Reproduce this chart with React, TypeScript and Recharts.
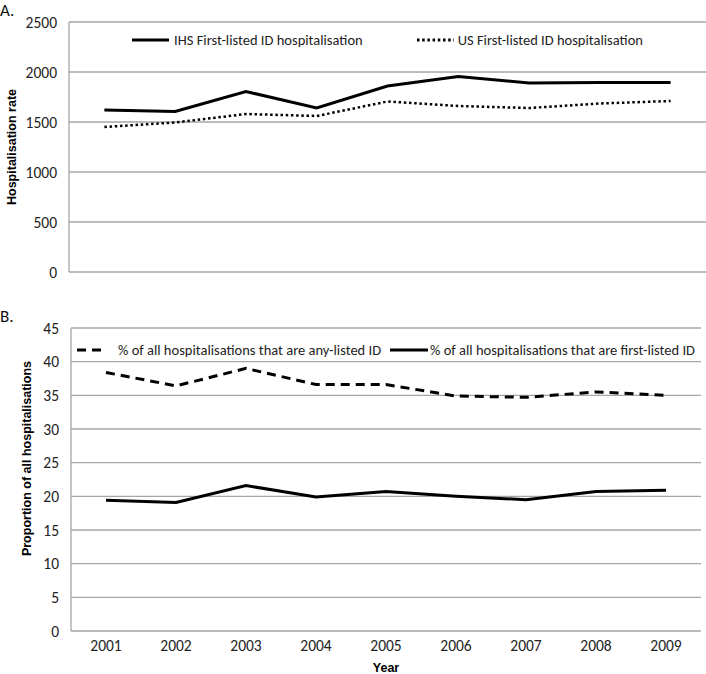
import { CartesianGrid, Legend, Line, LineChart, XAxis, YAxis } from "recharts";

const years = [2001, 2002, 2003, 2004, 2005, 2006, 2007, 2008, 2009];
const yearBounds = [2000.5, 2001.5, 2002.5, 2003.5, 2004.5, 2005.5, 2006.5, 2007.5, 2008.5, 2009.5];

const ihsRate = [1620, 1605, 1805, 1640, 1860, 1955, 1890, 1895, 1895];
const usRate = [1450, 1495, 1580, 1560, 1705, 1660, 1640, 1685, 1710];

const anyListedPct = [38.4, 36.4, 39.0, 36.6, 36.6, 34.9, 34.7, 35.5, 35.0];
const firstListedPct = [19.4, 19.1, 21.6, 19.9, 20.7, 20.0, 19.5, 20.7, 20.9];

const rateTicks = [0, 500, 1000, 1500, 2000, 2500];
const pctTicks = [0, 5, 10, 15, 20, 25, 30, 35, 40, 45];

const rateData = years.map((year, i) => ({ year, ihs: ihsRate[i], us: usRate[i] }));
const pctData = years.map((year, i) => ({ year, any: anyListedPct[i], first: firstListedPct[i] }));

const FONT = "Carlito, 'Liberation Sans Narrow', Lato, 'Open Sans', sans-serif";
const BOLD_FONT = "'Liberation Sans', Arial, sans-serif";
const GRID = "#a6a6a6";

const dashes: Record<string, { dash?: string; len: number; gap: number }> = {
  ihs: { len: 37, gap: 5 },
  us: { dash: "2.5 2.7", len: 37, gap: 4 },
  any: { dash: "9 6", len: 30, gap: 11 },
  first: { len: 38, gap: 2 },
};

function LineLegend({ payload, itemGap }: any) {
  return (
    <div style={{ display: "flex", justifyContent: "center", gap: itemGap, fontFamily: FONT, fontSize: 14.5, lineHeight: "18px", color: "#222" }}>
      {(payload || []).map((e: any) => {
        const d = dashes[e.dataKey];
        return (
          <div key={e.dataKey} style={{ display: "flex", alignItems: "center" }}>
            <svg width={d.len} height={8}>
              <line x1={0} y1={4} x2={d.len} y2={4} stroke="#000" strokeWidth={3} strokeDasharray={d.dash} />
            </svg>
            <span style={{ marginLeft: d.gap }}>{e.value}</span>
          </div>
        );
      })}
    </div>
  );
}

const tickStyle = { fontFamily: FONT, fontSize: 15.5, fill: "#222" };

function YLabel({ viewBox, value, dx, dy }: any) {
  const cx = viewBox.x + dx;
  const cy = viewBox.y + viewBox.height / 2 + dy;
  return (
    <text x={cx} y={cy} transform={`rotate(-90 ${cx} ${cy})`} textAnchor="middle" dominantBaseline="central"
      style={{ fontFamily: BOLD_FONT, fontSize: 12.5, fontWeight: 700, fill: "#000" }}>
      {value}
    </text>
  );
}

function XLabel({ viewBox }: any) {
  return (
    <text x={viewBox.x + viewBox.width / 2} y={viewBox.y + 41} textAnchor="middle"
      style={{ fontFamily: BOLD_FONT, fontSize: 12.5, fontWeight: 700, fill: "#000" }}>
      Year
    </text>
  );
}

const panelLetter = { position: "absolute" as const, left: 0, fontFamily: FONT, fontSize: 17, lineHeight: "17px", color: "#111" };

export default function App() {
  return (
    <div style={{ position: "absolute", left: 0, top: 0, width: 706, height: 674, background: "#fff" }}>
      <div style={{ ...panelLetter, top: 2 }}>A.</div>
      <div style={{ ...panelLetter, top: 308 }}>B.</div>

      <div style={{ position: "absolute", left: 0, top: 0 }}>
        <LineChart width={706} height={300} data={rateData} margin={{ top: 22, right: 0, bottom: 28, left: 0 }}>
          <CartesianGrid vertical={false} stroke={GRID} strokeWidth={1.3} />
          <XAxis dataKey="year" type="number" domain={[2000.5, 2009.5]} hide />
          <YAxis width={69} domain={[0, 2500]} ticks={rateTicks} tickLine={false} tickSize={6} tickMargin={6}
            axisLine={{ stroke: GRID, strokeWidth: 1.3 }} tick={tickStyle}
            label={{ content: (p: any) => <YLabel {...p} value="Hospitalisation rate" dx={12} dy={0} /> }} />
          <Legend verticalAlign="middle" align="center" wrapperStyle={{ top: 31, left: 69, width: 637 }}
            content={(p: any) => <LineLegend {...p} itemGap={54} />} />
          <Line dataKey="ihs" name="IHS First-listed ID hospitalisation" stroke="#000" strokeWidth={3} dot={false} isAnimationActive={false} />
          <Line dataKey="us" name="US First-listed ID hospitalisation" stroke="#000" strokeWidth={2.5} strokeDasharray="2.5 2.7" dot={false} isAnimationActive={false} />
        </LineChart>
      </div>

      <div style={{ position: "absolute", left: 0, top: 300 }}>
        <LineChart width={706} height={374} data={pctData} margin={{ top: 28, right: 5, bottom: 0, left: 0 }}>
          <CartesianGrid vertical={false} stroke={GRID} strokeWidth={1.3} />
          <XAxis xAxisId="bounds" dataKey="year" type="number" domain={[2000.5, 2009.5]} ticks={yearBounds}
            height={0} tick={false} tickSize={4} tickLine={{ stroke: GRID }} axisLine={{ stroke: GRID, strokeWidth: 1.3 }} />
          <XAxis dataKey="year" type="number" domain={[2000.5, 2009.5]} ticks={years} height={43}
            tickLine={false} axisLine={false} tickSize={4} tickMargin={5} tick={tickStyle}
            label={{ content: (p: any) => <XLabel {...p} /> }} />
          <YAxis width={71} domain={[0, 45]} ticks={pctTicks} tickLine={false} tickSize={6} tickMargin={6}
            axisLine={{ stroke: GRID, strokeWidth: 1.3 }} tick={tickStyle}
            label={{ content: (p: any) => <YLabel {...p} value="Proportion of all hospitalisations" dx={27} dy={-21} /> }} />
          <Legend verticalAlign="middle" align="center" wrapperStyle={{ top: 41, left: 71, width: 630 }}
            content={(p: any) => <LineLegend {...p} itemGap={9} />} />
          <Line dataKey="any" name="% of all hospitalisations that are any-listed ID" stroke="#000" strokeWidth={3} strokeDasharray="9 6" dot={false} isAnimationActive={false} />
          <Line dataKey="first" name="% of all hospitalisations that are first-listed ID" stroke="#000" strokeWidth={3} dot={false} isAnimationActive={false} />
        </LineChart>
      </div>
    </div>
  );
}
